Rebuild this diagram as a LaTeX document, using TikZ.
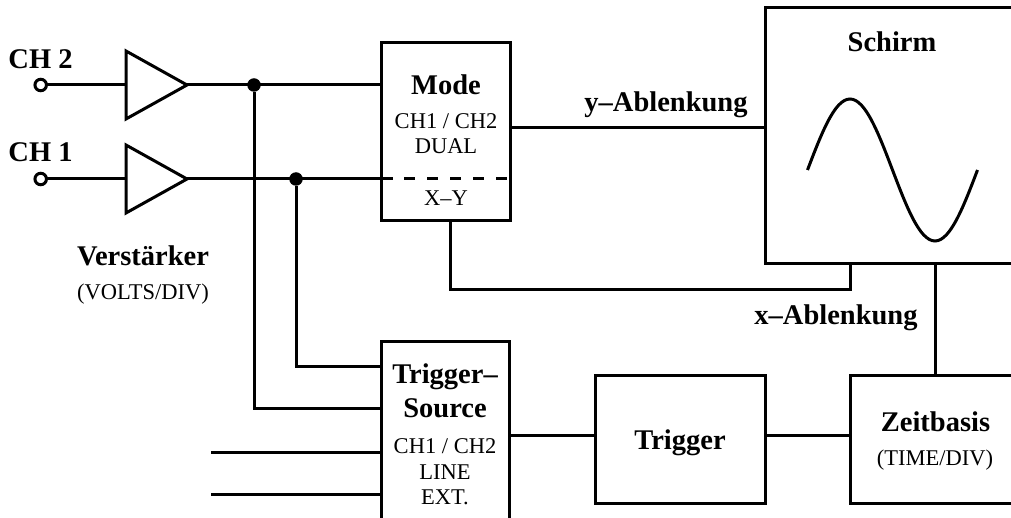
\documentclass[tikz,border=0pt]{standalone}
\usepackage{fontspec}
\setmainfont{Liberation Serif}
\usetikzlibrary{shapes.geometric}
\tikzset{
  wire/.style={line width=3pt,line cap=butt,line join=miter},
  blockbox/.style={draw,line width=3pt,fill=none,inner sep=0pt,outer sep=0pt,anchor=north west},
  amp/.style={draw,line width=3pt,isosceles triangle,isosceles triangle stretches,shape border rotate=0,minimum width=68pt,minimum height=61pt,inner sep=0pt,outer sep=0pt,anchor=lower side},
  terminal/.style={circle,draw,line width=3pt,fill=white,minimum size=11.5pt,inner sep=0pt,outer sep=0pt},
  junction/.style={circle,fill=black,minimum size=13.5pt,inner sep=0pt,outer sep=0pt},
  big/.style={inner sep=0pt,anchor=base,font=\fontsize{28.5}{30}\selectfont\bfseries},
  small/.style={inner sep=0pt,anchor=base,font=\fontsize{22.5}{25}\selectfont},
}
\begin{document}
\begin{tikzpicture}[x=1pt,y=-1pt]
\path[use as bounding box,clip] (0,0) rectangle (1011,518);
% blocks
\node[blockbox,minimum width=129pt,minimum height=178pt] (mode) at (381,43) {};
\node[blockbox,minimum width=300pt,minimum height=256pt] (schirm) at (765,8) {};
\node[blockbox,minimum width=128pt,minimum height=220pt] (source) at (381,341) {};
\node[blockbox,minimum width=170pt,minimum height=128pt] (trigger) at (595,375) {};
\node[blockbox,minimum width=220pt,minimum height=128pt] (zeit) at (850,375) {};
% amplifiers and terminals
\node[amp] (amp2) at (126,85) {};
\node[amp] (amp1) at (126,179) {};
\node[terminal] (in2) at (40.7,85) {};
\node[terminal] (in1) at (40.7,179) {};
% junctions and free points
\node[junction] (j2) at (254,85) {};
\node[junction] (j1) at (296,179) {};
\coordinate (modeA) at (mode.west |- j2);
\coordinate (modeSolid) at (393,179);
\coordinate (modeDash) at (404,179);
\coordinate (modeBend) at (507,179);
\coordinate (srcA) at (source.west |- 0,366);
\coordinate (srcB) at (source.west |- 0,408);
\coordinate (srcC) at (source.west |- 0,452);
\coordinate (srcD) at (source.west |- 0,494);
\coordinate (extC) at (211,452);
\coordinate (extD) at (211,494);
\coordinate (modeOut) at (mode.east |- 0,128);
\coordinate (modeX) at (450,221);
\coordinate (schirmX) at (850,264);
\coordinate (schirmZ) at (935,264);
\coordinate (routeY) at (450,290);
\coordinate (srcOut) at (source.east |- 0,435);
% connectors
\draw[wire] (in2) -- (amp2.lower side);
\draw[wire] (in1) -- (amp1.lower side);
\draw[wire] (amp2.apex) -- (modeA);
\draw[wire] (amp1.apex) -- (modeSolid);
\draw[wire,dash pattern=on 11pt off 12pt] (modeDash) -- (modeBend);
\draw[wire] (j2) |- (srcB);
\draw[wire] (j1) |- (srcA);
\draw[wire] (extC) -- (srcC);
\draw[wire] (extD) -- (srcD);
\draw[wire] (modeOut) -- (schirm.west |- modeOut);
\draw[wire] (modeX) -- (routeY) -| (schirmX);
\draw[wire] (schirmZ) -- (schirmZ |- zeit.north);
\draw[wire] (srcOut) -- (trigger.west |- srcOut);
\draw[wire] (trigger.east |- srcOut) -- (zeit.west |- srcOut);
% trace
\draw[line width=3pt,domain=0:360,samples=61,smooth,variable=\t] plot ({807.5+\t/360*170},{170-71*sin(\t)});
% labels
\node[big] (lch2) at (40.5,68.5) {CH 2};
\node[big] (lch1) at (40.5,162) {CH 1};
\node[big] (lamp) at (143,266) {Verstärker};
\node[small] (lvolts) at (143,299.5) {(VOLTS/DIV)};
\node[big] (lmode) at (446,95) {Mode};
\node[small] (lm1) at (446,129) {CH1 / CH2};
\node[small] (lm2) at (446,154) {DUAL};
\node[small] (lm3) at (446,206) {X–Y};
\node[big] (ly) at (666,112) {y–Ablenkung};
\node[big] (lschirm) at (892,51.5) {Schirm};
\node[big] (lx) at (836,324.5) {x–Ablenkung};
\node[big] (ls1) at (445,383) {Trigger–};
\node[big] (ls2) at (445,417.5) {Source};
\node[small] (ls3) at (445,453) {CH1 / CH2};
\node[small] (ls4) at (445,479) {LINE};
\node[small] (ls5) at (445,504) {EXT.};
\node[big] (ltrig) at (680,449) {Trigger};
\node[big] (lzeit) at (935.5,431) {Zeitbasis};
\node[small] (ltime) at (935,465) {(TIME/DIV)};
\end{tikzpicture}
\end{document}
